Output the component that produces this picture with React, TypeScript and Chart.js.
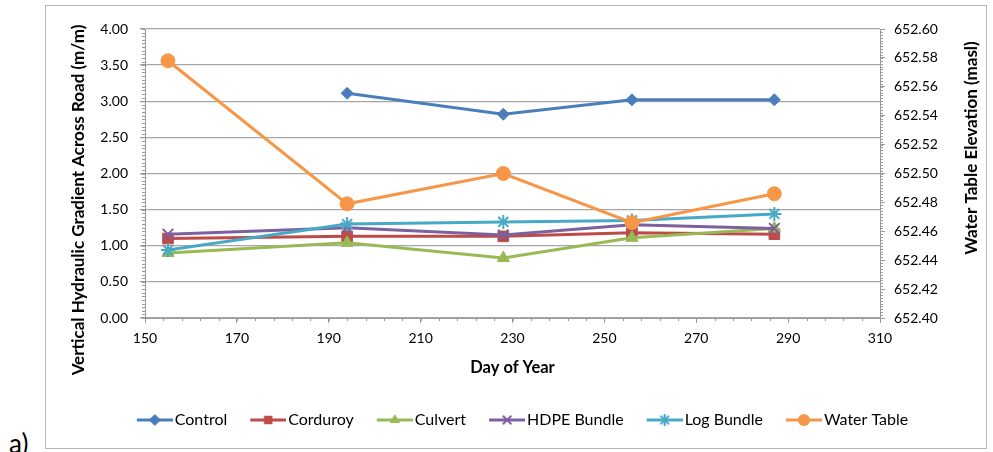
import React, { useEffect, useRef } from "react";
import { Chart, registerables } from "chart.js";

Chart.register(...registerables);

// ---- data ----
const dayOfYear = [155, 194, 228, 256, 287];
const controlValues = [null, 3.11, 2.82, 3.02, 3.02];
const corduroyValues = [1.1, 1.13, 1.13, 1.18, 1.16];
const culvertValues = [0.9, 1.04, 0.83, 1.11, 1.24];
const hdpeValues = [1.16, 1.25, 1.15, 1.29, 1.24];
const logBundleValues = [0.94, 1.3, 1.33, 1.35, 1.44];
const waterTableValues = [652.578, 652.479, 652.5, 652.466, 652.486];

const seriesLabels = ["Control", "Corduroy", "Culvert", "HDPE Bundle", "Log Bundle", "Water Table"];
const seriesColors = ["#4A7EBB", "#BE4B48", "#98B954", "#7D60A0", "#46AAC5", "#F79646"];
const seriesMarkers = ["rectRot", "rect", "triangle", "crossRot", "star", "circle"];
const markerRadii = [6, 7.5, 7, 7.5, 7, 7];

const xTicks = { min: 150, max: 310, step: 20, minor: 4 };
const yTicks = { min: 0, max: 4, step: 0.5, minor: 0.05 };
const y2Ticks = { min: 652.4, max: 652.6, step: 0.02, minor: 0.002 };

const xTitle = "Day of Year";
const yTitle = "Vertical Hydraulic Gradient Across Road (m/m)";
const y2Title = "Water Table Elevation (masl)";

const FONT = "Lato, 'Open Sans', sans-serif";

function drawMarker(ctx: CanvasRenderingContext2D, style: string, x: number, y: number, r: number, color: string) {
  ctx.save();
  ctx.fillStyle = color;
  ctx.strokeStyle = color;
  ctx.lineWidth = 1;
  ctx.beginPath();
  if (style === "rectRot") {
    ctx.moveTo(x, y - r);
    ctx.lineTo(x + r, y);
    ctx.lineTo(x, y + r);
    ctx.lineTo(x - r, y);
    ctx.closePath();
    ctx.fill();
  } else if (style === "rect") {
    const s = r * Math.SQRT1_2;
    ctx.rect(x - s, y - s, 2 * s, 2 * s);
    ctx.fill();
  } else if (style === "triangle") {
    const h = (3 * r) / 2;
    const side = (3 * r) / Math.sqrt(3);
    ctx.moveTo(x - side / 2, y + h / 3);
    ctx.lineTo(x + side / 2, y + h / 3);
    ctx.lineTo(x, y - (2 * h) / 3);
    ctx.closePath();
    ctx.fill();
  } else if (style === "crossRot") {
    const s = r * Math.SQRT1_2;
    ctx.lineWidth = 2;
    ctx.moveTo(x - s, y - s);
    ctx.lineTo(x + s, y + s);
    ctx.moveTo(x - s, y + s);
    ctx.lineTo(x + s, y - s);
    ctx.stroke();
  } else if (style === "star") {
    const s = r * Math.SQRT1_2;
    ctx.lineWidth = 2;
    ctx.moveTo(x - s, y - s);
    ctx.lineTo(x + s, y + s);
    ctx.moveTo(x - s, y + s);
    ctx.lineTo(x + s, y - s);
    ctx.moveTo(x, y - r);
    ctx.lineTo(x, y + r);
    ctx.moveTo(x - r, y);
    ctx.lineTo(x + r, y);
    ctx.stroke();
  } else {
    ctx.arc(x, y, r, 0, Math.PI * 2);
    ctx.fill();
  }
  ctx.restore();
}

// legend icon: transparent left margin, then a 36px line with the marker in its middle
const ICON_W = 55;
const ICON_LINE = 36;
function makeLegendIcon(i: number): HTMLCanvasElement {
  const c = document.createElement("canvas");
  c.width = ICON_W;
  c.height = 16;
  const ctx = c.getContext("2d")!;
  const x0 = ICON_W - ICON_LINE;
  ctx.strokeStyle = seriesColors[i];
  ctx.lineWidth = 3;
  ctx.beginPath();
  ctx.moveTo(x0, 8);
  ctx.lineTo(ICON_W, 8);
  ctx.stroke();
  drawMarker(ctx, seriesMarkers[i], x0 + ICON_LINE / 2, 8, Math.min(markerRadii[i], 6), seriesColors[i]);
  return c;
}

const minorTickPlugin = {
  id: "minorTicks",
  afterDraw(chart: any) {
    const ctx: CanvasRenderingContext2D = chart.ctx;
    const xs = chart.scales.x;
    const ys = chart.scales.y;
    const y2s = chart.scales.y2;
    const area = chart.chartArea;
    ctx.save();
    ctx.strokeStyle = "#9a9a9a";
    ctx.lineWidth = 1;
    ctx.beginPath();
    const nY = Math.round((yTicks.max - yTicks.min) / yTicks.minor);
    for (let k = 0; k <= nY; k++) {
      const py = Math.round(ys.getPixelForValue(yTicks.min + k * yTicks.minor)) + 0.5;
      ctx.moveTo(area.left - 3, py);
      ctx.lineTo(area.left, py);
    }
    const nY2 = Math.round((y2Ticks.max - y2Ticks.min) / y2Ticks.minor);
    for (let k = 0; k <= nY2; k++) {
      const py = Math.round(y2s.getPixelForValue(y2Ticks.min + k * y2Ticks.minor)) + 0.5;
      ctx.moveTo(area.right, py);
      ctx.lineTo(area.right + 3, py);
    }
    const nX = Math.round((xTicks.max - xTicks.min) / xTicks.minor);
    for (let k = 0; k <= nX; k++) {
      const px = Math.round(xs.getPixelForValue(xTicks.min + k * xTicks.minor)) + 0.5;
      ctx.moveTo(px, area.bottom);
      ctx.lineTo(px, area.bottom + 3);
    }
    ctx.stroke();
    ctx.restore();
  },
};

// vertical axis titles, both reading bottom-to-top as in the original
const axisTitlePlugin = {
  id: "axisTitles",
  afterDraw(chart: any) {
    const ctx: CanvasRenderingContext2D = chart.ctx;
    ctx.save();
    ctx.fillStyle = "#000";
    ctx.font = `bold 17px ${FONT}`;
    ctx.textAlign = "center";
    ctx.textBaseline = "middle";
    const ys = chart.scales.y;
    const y2s = chart.scales.y2;
    ctx.save();
    ctx.translate(ys.left + 33, 194);
    ctx.rotate(-Math.PI / 2);
    ctx.fillText(yTitle, 0, 0);
    ctx.restore();
    ctx.save();
    ctx.translate(y2s.right - 14, 142);
    ctx.rotate(-Math.PI / 2);
    ctx.fillText(y2Title, 0, 0);
    ctx.restore();
    ctx.restore();
  },
};

const allSeries = [controlValues, corduroyValues, culvertValues, hdpeValues, logBundleValues, waterTableValues];

export default function App() {
  const canvasRef = useRef<HTMLCanvasElement | null>(null);

  useEffect(() => {
    if (!canvasRef.current) return;
    const icons = seriesLabels.map((_, i) => makeLegendIcon(i));
    const datasets = allSeries.map((vals, i) => ({
      label: seriesLabels[i],
      data: dayOfYear.map((d, j) => ({ x: d, y: vals[j] })),
      yAxisID: i === 5 ? "y2" : "y",
      borderColor: seriesColors[i],
      backgroundColor: seriesColors[i],
      borderWidth: 3,
      pointStyle: seriesMarkers[i],
      pointRadius: markerRadii[i],
      pointHoverRadius: markerRadii[i],
      pointBorderWidth: seriesMarkers[i] === "crossRot" || seriesMarkers[i] === "star" ? 2 : 1,
      pointBorderColor: seriesColors[i],
      pointBackgroundColor: seriesColors[i],
      tension: 0,
      spanGaps: false,
      order: 5 - i,
    }));

    const chart = new Chart(canvasRef.current, {
      type: "line",
      data: { datasets },
      plugins: [minorTickPlugin, axisTitlePlugin],
      options: {
        animation: false,
        responsive: false,
        maintainAspectRatio: false,
        layout: { padding: { top: 23, bottom: 10, left: 0, right: 0 } },
        plugins: {
          tooltip: { enabled: false },
          legend: {
            position: "bottom",
            labels: {
              usePointStyle: true,
              pointStyleWidth: 43,
              padding: 10,
              color: "#000",
              font: { family: FONT, size: 16 },
              generateLabels: (ch: any) =>
                ch.data.datasets.map((ds: any, i: number) => ({
                  text: ds.label,
                  pointStyle: icons[i],
                  fillStyle: "transparent",
                  strokeStyle: "transparent",
                  lineWidth: 0,
                  hidden: false,
                  datasetIndex: i,
                  fontColor: "#000",
                })),
            },
          },
        },
        scales: {
          x: {
            type: "linear",
            min: xTicks.min,
            max: xTicks.max,
            ticks: {
              stepSize: xTicks.step,
              color: "#000",
              font: { family: FONT, size: 14 },
              padding: 7,
              callback: (v: any) => String(v),
            },
            grid: { drawOnChartArea: false, drawTicks: true, tickLength: 5, color: "#9a9a9a", tickColor: "#9a9a9a" },
            border: { color: "#9a9a9a", width: 1 },
            title: {
              display: true,
              text: xTitle,
              color: "#000",
              font: { family: FONT, size: 16.5, weight: "bold" },
              padding: { top: 2, bottom: 24 },
            },
            afterFit: (s: any) => {
              s.height = 84;
            },
          },
          y: {
            type: "linear",
            position: "left",
            min: yTicks.min,
            max: yTicks.max,
            ticks: {
              stepSize: yTicks.step,
              color: "#000",
              font: { family: FONT, size: 14 },
              padding: 12,
              callback: (v: any) => Number(v).toFixed(2),
            },
            grid: { color: "#a6a6a6", lineWidth: 1.3, tickLength: 5, tickColor: "#9a9a9a" },
            border: { color: "#9a9a9a", width: 1 },
            afterFit: (s: any) => {
              s.width = 99;
            },
          },
          y2: {
            type: "linear",
            position: "right",
            min: y2Ticks.min,
            max: y2Ticks.max,
            ticks: {
              stepSize: y2Ticks.step,
              color: "#000",
              font: { family: FONT, size: 14 },
              padding: 9,
              callback: (v: any) => Number(v).toFixed(2),
            },
            grid: { drawOnChartArea: false, tickLength: 5, color: "#9a9a9a", tickColor: "#9a9a9a" },
            border: { color: "#9a9a9a", width: 1 },
            afterFit: (s: any) => {
              s.width = 106;
            },
          },
        },
      },
    });
    return () => chart.destroy();
  }, []);

  return (
    <div style={{ position: "absolute", left: 0, top: 0, width: 993, height: 452, background: "#fff", overflow: "hidden" }}>
      <div
        style={{
          position: "absolute",
          left: 45,
          top: 5,
          width: 942,
          height: 444,
          border: "1px solid #b5b5b5",
          boxSizing: "border-box",
        }}
      >
        <canvas ref={canvasRef} width={940} height={442} style={{ display: "block" }} />
      </div>
      <div
        style={{
          position: "absolute",
          left: 9,
          top: 430,
          fontFamily: FONT,
          fontSize: 26,
          lineHeight: "26px",
          color: "#000",
        }}
      >
        a)
      </div>
    </div>
  );
}
